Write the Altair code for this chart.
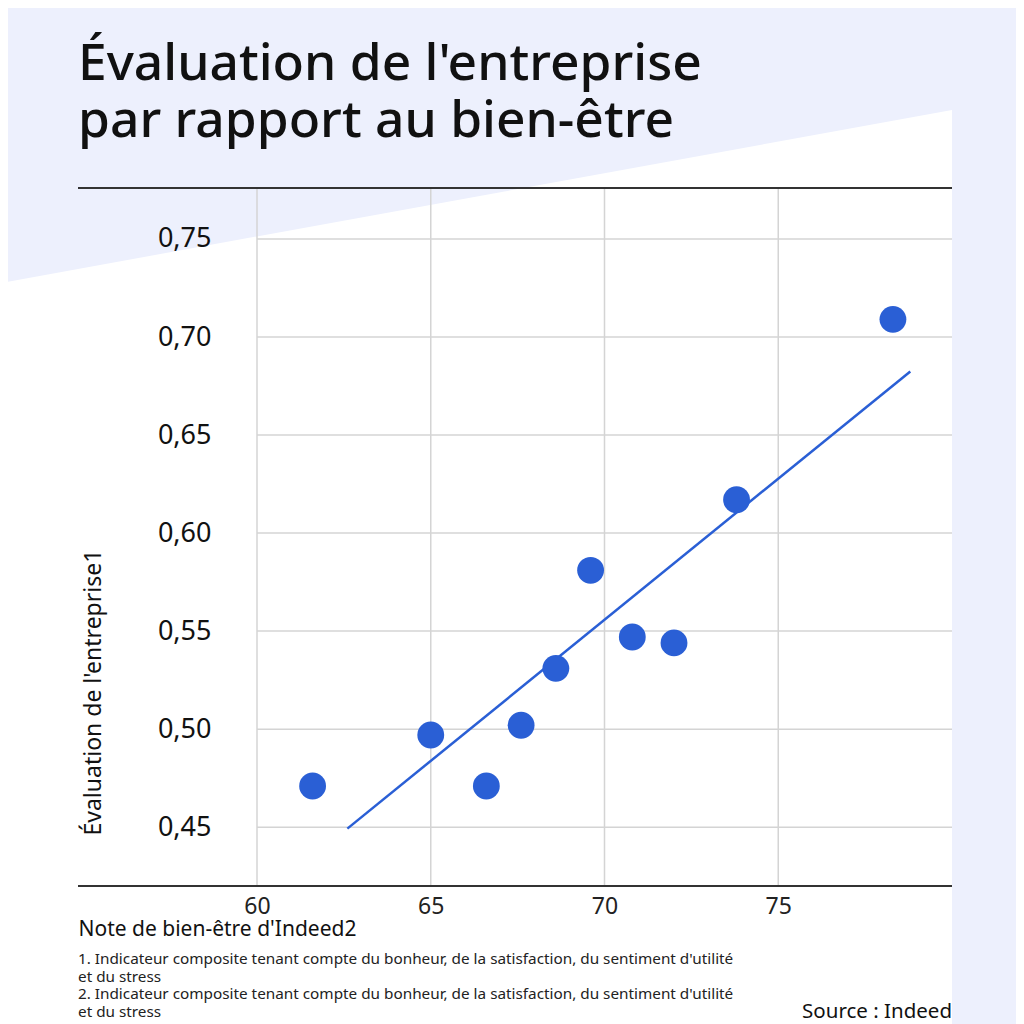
import altair as alt
import pandas as pd

# ---- data ----
wellbeing = [61.6, 65.0, 66.6, 67.6, 68.6, 69.6, 70.8, 72.0, 73.8, 78.3]
rating = [0.471, 0.497, 0.471, 0.502, 0.531, 0.581, 0.547, 0.544, 0.617, 0.709]
x_ticks = [60, 65, 70, 75]
y_ticks = [0.45, 0.50, 0.55, 0.60, 0.65, 0.70, 0.75]
title_lines = ["Évaluation de l'entreprise", "par rapport au bien-être"]
x_title = "Note de bien-être d'Indeed2"
y_title = "Évaluation de l'entreprise1"
notes = [
    "1. Indicateur composite tenant compte du bonheur, de la satisfaction, du sentiment d'utilité",
    "et du stress",
    "2. Indicateur composite tenant compte du bonheur, de la satisfaction, du sentiment d'utilité",
    "et du stress",
]
source = "Source : Indeed"

df = pd.DataFrame({"x": wellbeing, "y": rating})
xt = pd.DataFrame({"x": x_ticks})
yt = pd.DataFrame({"y": y_ticks})

W, H = 695, 698
FONT = "Noto Sans"
BLUE = "#2a5fd5"
LAVENDER = "#edf0fd"
GRID = "#d4d4d4"

one = pd.DataFrame({"k": [0]})

# decorative white diagonal background (pixel space, not data)
bg = pd.DataFrame({"px": [-300, 695], "py": [103, -78], "py2": [900, 900]})
background = alt.Chart(bg).mark_area(color="white").encode(
    x=alt.X("px:Q", scale=None),
    y=alt.Y("py:Q", scale=None),
    y2="py2:Q",
)

xscale = alt.Scale(domain=[60, 80], nice=False, zero=False)
yscale = alt.Scale(domain=[0.42, 0.776], nice=False, zero=False)

x_axis = alt.Axis(
    values=x_ticks,
    title=x_title,
    titleX=-179,
    titleY=49,
    titleAlign="left",
    titleBaseline="alphabetic",
    titleFontSize=21,
    titleFontWeight="normal",
    titleFont=FONT,
    titleColor="#111",
    labelFontSize=23,
    labelFont=FONT,
    labelColor="#222",
    labelPadding=9,
    labelFlush=False,
    ticks=False,
    domain=False,
    grid=False,
    zindex=1,
)
y_axis = alt.Axis(
    values=y_ticks,
    labelExpr="replace(format(datum.value, '.2f'), '.', ',')",
    title=y_title,
    titleX=-157,
    titleY=647,
    titleAngle=270,
    titleAlign="left",
    titleBaseline="alphabetic",
    titleFontSize=23,
    titleFontWeight="normal",
    titleFont=FONT,
    titleColor="#111",
    labelFontSize=27,
    labelFont=FONT,
    labelColor="#111",
    labelPadding=46,
    labelFlush=False,
    ticks=False,
    domain=False,
    grid=False,
    zindex=1,
)

X = alt.X("x:Q", scale=xscale, axis=x_axis)
Y = alt.Y("y:Q", scale=yscale, axis=y_axis)

vgrid = alt.Chart(xt).mark_rule(color=GRID, strokeWidth=1.5).encode(
    x=X, y=alt.value(0), y2=alt.value(H)
)
hgrid = alt.Chart(yt).mark_rule(color=GRID, strokeWidth=1.5).encode(
    y=Y, x=alt.value(0), x2=alt.value(W)
)

base = alt.Chart(df)

points = base.mark_circle(size=720, opacity=1, color=BLUE).encode(x=X, y=Y)

trend = base.transform_regression("x", "y", extent=[62.6, 78.8]).mark_line(
    color=BLUE, strokeWidth=2.5
).encode(x=X, y=Y)

top_rule = alt.Chart(one).mark_rule(color="#333", strokeWidth=2).encode(
    x=alt.value(-179), x2=alt.value(W), y=alt.value(0)
)
bottom_rule = alt.Chart(one).mark_rule(color="#333", strokeWidth=2).encode(
    x=alt.value(-179), x2=alt.value(W), y=alt.value(H)
)

texts = []
for i, line in enumerate(title_lines):
    texts.append(
        alt.Chart(one)
        .mark_text(
            text=line, font=FONT, fontSize=51.5, fontWeight=500, align="left",
            baseline="alphabetic", color="#111",
        )
        .encode(x=alt.value(-179), y=alt.value(-108 + 57 * i))
    )
note_y = [776, 793.5, 811, 828.5]
for line, yy in zip(notes, note_y):
    texts.append(
        alt.Chart(one)
        .mark_text(
            text=line, font=FONT, fontSize=15.3, align="left",
            baseline="alphabetic", color="#222",
        )
        .encode(x=alt.value(-179), y=alt.value(yy))
    )
texts.append(
    alt.Chart(one)
    .mark_text(
        text=source, font=FONT, fontSize=20.5, align="right",
        baseline="alphabetic", color="#111",
    )
    .encode(x=alt.value(W), y=alt.value(830))
)

chart = (
    alt.layer(background, vgrid, hgrid, trend, points, top_rule, bottom_rule, *texts)
    .properties(
        width=W,
        height=H,
        padding={"left": 249, "top": 180, "right": 64, "bottom": 138},
        autosize=alt.AutoSizeParams(type="none"),
        background=LAVENDER,
    )
    .configure_view(stroke=None)
)

chart.save("out.html", embed_options={"renderer": "svg", "actions": False})
